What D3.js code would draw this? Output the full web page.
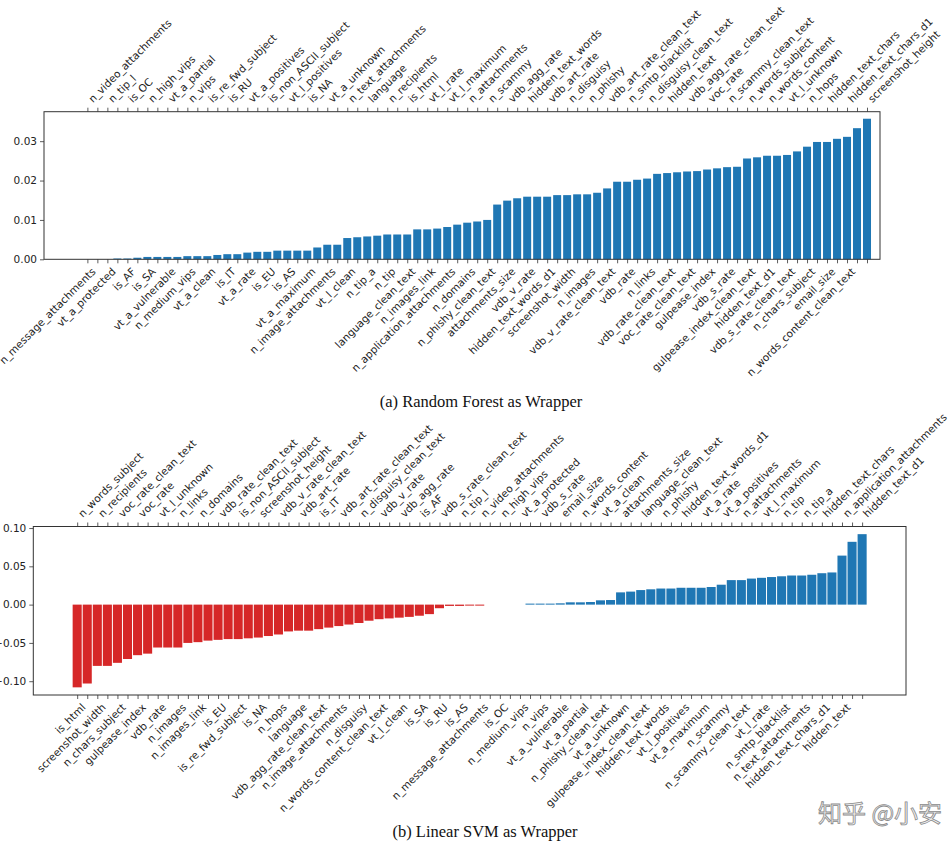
<!DOCTYPE html>
<html>
<head>
<meta charset="utf-8">
<script src="https://cdn.jsdelivr.net/npm/d3@7"></script>
<style>
    body { margin: 0; background: #fff; }
</style>
</head>
<body>
<div id="chart"></div>
<script>
// (a) Random Forest: labels alternate top (even index) / bottom (odd index)
var rfTopLabels = ["n_video_attachments", "n_tip_l", "is_OC", "n_high_vips", "vt_a_partial", "n_vips",
    "is_re_fwd_subject", "is_RU", "vt_a_positives", "is_non_ASCII_subject", "vt_l_positives", "is_NA",
    "vt_a_unknown", "n_text_attachments", "language", "n_recipients", "is_html", "vt_l_rate", "vt_l_maximum",
    "n_attachments", "n_scammy", "vdb_agg_rate", "hidden_text_words", "vdb_art_rate", "n_disguisy", "n_phishy",
    "vdb_art_rate_clean_text", "n_smtp_blacklist", "n_disguisy_clean_text", "hidden_text",
    "vdb_agg_rate_clean_text", "voc_rate", "n_scammy_clean_text", "n_words_subject", "n_words_content",
    "vt_l_unknown", "n_hops", "hidden_text_chars", "hidden_text_chars_d1", "screenshot_height"];
var rfBottomLabels = ["n_message_attachments", "vt_a_protected", "is_AF", "is_SA", "vt_a_vulnerable",
    "n_medium_vips", "vt_a_clean", "is_IT", "vt_a_rate", "is_EU", "is_AS", "vt_a_maximum",
    "n_image_attachments", "vt_l_clean", "n_tip_a", "n_tip", "language_clean_text", "n_images_link",
    "n_application_attachments", "n_domains", "n_phishy_clean_text", "attachments_size", "vdb_v_rate",
    "hidden_text_words_d1", "screenshot_width", "n_images", "vdb_v_rate_clean_text", "vdb_rate", "n_links",
    "vdb_rate_clean_text", "voc_rate_clean_text", "gulpease_index", "vdb_s_rate", "gulpease_index_clean_text",
    "hidden_text_d1", "vdb_s_rate_clean_text", "n_chars_subject", "email_size", "n_words_content_clean_text"];
var rfValues = [0, 0, 0, 0.0002, 0.0002, 0.0004, 0.0006, 0.0006, 0.0006, 0.0006,
    0.0008, 0.0008, 0.0008, 0.0011, 0.0013, 0.0013, 0.0017, 0.0019, 0.0019, 0.0022,
    0.0022, 0.0022, 0.0022, 0.0030, 0.0037, 0.0037, 0.0054, 0.0056, 0.0058, 0.0060,
    0.0063, 0.0063, 0.0063, 0.0076, 0.0076, 0.0078, 0.0082, 0.0088, 0.0093, 0.0096,
    0.0100, 0.0139, 0.0149, 0.0155, 0.0159, 0.0159, 0.0159, 0.0163, 0.0163, 0.0165,
    0.0165, 0.0169, 0.0180, 0.0197, 0.0197, 0.0202, 0.0205, 0.0217, 0.0219, 0.0221,
    0.0223, 0.0224, 0.0228, 0.0231, 0.0234, 0.0235, 0.0256, 0.0259, 0.0263, 0.0263,
    0.0265, 0.0274, 0.0286, 0.0298, 0.0298, 0.0306, 0.0311, 0.0333, 0.0357];
var rfTicks = [0, 0.01, 0.02, 0.03];

// (b) Linear SVM
var svmTopLabels = ["n_words_subject", "n_recipients", "voc_rate_clean_text", "voc_rate", "vt_l_unknown",
    "n_links", "n_domains", "vdb_rate_clean_text", "is_non_ASCII_subject", "screenshot_height",
    "vdb_v_rate_clean_text", "vdb_art_rate", "is_IT", "vdb_art_rate_clean_text", "n_disguisy_clean_text",
    "vdb_v_rate", "vdb_agg_rate", "is_AF", "vdb_s_rate_clean_text", "n_tip_l", "n_video_attachments",
    "n_high_vips", "vt_a_protected", "vdb_s_rate", "email_size", "n_words_content", "vt_a_clean",
    "attachments_size", "language_clean_text", "n_phishy", "hidden_text_words_d1", "vt_a_rate",
    "vt_a_positives", "n_attachments", "vt_l_maximum", "n_tip", "n_tip_a", "hidden_text_chars",
    "n_application_attachments", "hidden_text_d1"];
var svmBottomLabels = ["is_html", "screenshot_width", "n_chars_subject", "gulpease_index", "vdb_rate",
    "n_images", "n_images_link", "is_EU", "is_re_fwd_subject", "is_NA", "n_hops", "language",
    "vdb_agg_rate_clean_text", "n_image_attachments", "n_disguisy", "n_words_content_clean_text", "vt_l_clean",
    "is_SA", "is_RU", "is_AS", "n_message_attachments", "is_OC", "n_medium_vips", "n_vips", "vt_a_vulnerable",
    "vt_a_partial", "n_phishy_clean_text", "vt_a_unknown", "gulpease_index_clean_text", "hidden_text_words",
    "vt_l_positives", "vt_a_maximum", "n_scammy", "n_scammy_clean_text", "vt_l_rate", "n_smtp_blacklist",
    "n_text_attachments", "hidden_text_chars_d1", "hidden_text"];
var svmValues = [-0.108, -0.103, -0.080, -0.080, -0.076, -0.071, -0.066, -0.064, -0.056, -0.056,
    -0.056, -0.050, -0.049, -0.047, -0.046, -0.045, -0.045, -0.044, -0.043, -0.041,
    -0.039, -0.035, -0.034, -0.034, -0.032, -0.030, -0.028, -0.026, -0.024, -0.021,
    -0.019, -0.018, -0.017, -0.016, -0.0145, -0.0124, -0.0047, -0.0017, -0.0017, -0.0013,
    -0.0013, 0, 0, 0, 0, 0.0013, 0.0013, 0.0013, 0.0017, 0.0030,
    0.0030, 0.0034, 0.0056, 0.0060, 0.016, 0.017, 0.019, 0.020, 0.021, 0.021,
    0.022, 0.022, 0.022, 0.023, 0.026, 0.032, 0.032, 0.034, 0.035, 0.036,
    0.037, 0.038, 0.038, 0.039, 0.041, 0.042, 0.064, 0.082, 0.092];
var svmTicks = [-0.10, -0.05, 0, 0.05, 0.10];

var captions = ["(a) Random Forest as Wrapper", "(b) Linear SVM as Wrapper"];

var width = 952,
    height = 855;
var tickFont = "DejaVu Sans";

var svg = d3.select("#chart").append("svg")
    .attr("width", width).attr("height", height)
    .style("background", "#fff");

function interleave(top, bottom) {
    var names = [];
    for (var i = 0; i < top.length + bottom.length; i++) {
        names.push(i % 2 === 0 ? top[i / 2] : bottom[(i - 1) / 2]);
    }
    return names;
}

function drawPanel(p) {
    var names = interleave(p.topLabels, p.bottomLabels);
    var n = names.length;

    // matplotlib style auto margins
    var lo = d3.min(p.values), hi = d3.max(p.values);
    var ylo = lo < 0 ? lo - 0.05 * (hi - lo) : 0;
    var yhi = hi + 0.05 * (hi - (lo < 0 ? lo : 0));

    var x = d3.scaleLinear().domain(p.xDomain).range([p.left, p.right]);
    var y = d3.scaleLinear().domain([ylo, yhi]).range([p.bottom, p.top]);

    var g = svg.append("g");

    g.append("g").selectAll("rect")
        .data(p.values)
        .join("rect")
        .attr("x", (d, i) => x(i - p.barWidth / 2))
        .attr("width", x(p.barWidth) - x(0))
        .attr("y", d => y(Math.max(0, d)))
        .attr("height", d => Math.abs(y(d) - y(0)))
        .attr("fill", d => d < 0 ? "#d62728" : "#1f77b4");

    // bottom axis: odd indices
    g.append("g")
        .attr("transform", "translate(0," + p.bottom + ")")
        .call(d3.axisBottom(x).tickValues(d3.range(n)).tickSize(4).tickSizeOuter(0)
            .tickFormat(i => i % 2 === 1 ? names[i] : ""))
        .call(s => s.select(".domain").remove())
        .call(s => s.selectAll("line").attr("stroke", "#333").attr("stroke-width", 0.8))
        .call(s => s.selectAll("text")
            .attr("x", 0).attr("y", 0).attr("dy", 0)
            .attr("text-anchor", "end")
            .attr("transform", "translate(-1.5,13) rotate(-45)"))
        .attr("font-family", tickFont).attr("font-size", 10.5).attr("color", "#222");

    // top axis: even indices
    g.append("g")
        .attr("transform", "translate(0," + p.top + ")")
        .call(d3.axisTop(x).tickValues(d3.range(n)).tickSize(4).tickSizeOuter(0)
            .tickFormat(i => i % 2 === 0 ? names[i] : ""))
        .call(s => s.select(".domain").remove())
        .call(s => s.selectAll("line").attr("stroke", "#333").attr("stroke-width", 0.8))
        .call(s => s.selectAll("text")
            .attr("x", 0).attr("y", 0).attr("dy", 0)
            .attr("text-anchor", "start")
            .attr("transform", "translate(5,-8.5) rotate(-45)"))
        .attr("font-family", tickFont).attr("font-size", 10.5).attr("color", "#222");

    g.append("g")
        .attr("transform", "translate(" + p.left + ",0)")
        .call(d3.axisLeft(y).tickValues(p.yTicks).tickSize(4).tickPadding(3)
            .tickFormat(d3.format(".2f")))
        .call(s => s.select(".domain").remove())
        .call(s => s.selectAll("line").attr("stroke", "#333").attr("stroke-width", 0.8))
        .attr("font-family", tickFont).attr("font-size", 10.5).attr("color", "#222");

    g.append("rect")
        .attr("x", p.left).attr("y", p.top)
        .attr("width", p.right - p.left).attr("height", p.bottom - p.top)
        .attr("fill", "none").attr("stroke", "#333").attr("stroke-width", 1);

    svg.append("text")
        .attr("x", p.captionX).attr("y", p.captionY)
        .attr("text-anchor", "middle")
        .attr("font-family", "Liberation Serif")
        .attr("font-size", 16.5)
        .attr("fill", "#111")
        .text(p.caption);
}

drawPanel({
    values: rfValues, topLabels: rfTopLabels, bottomLabels: rfBottomLabels, yTicks: rfTicks,
    xDomain: [-4.34, 79.3], barWidth: 0.8,
    left: 44, right: 880, top: 111.7, bottom: 259.3,
    caption: captions[0], captionX: 481, captionY: 407
});

drawPanel({
    values: svmValues, topLabels: svmTopLabels, bottomLabels: svmBottomLabels, yTicks: svmTicks,
    xDomain: [-4.36, 82.36], barWidth: 0.9,
    left: 33.3, right: 906, top: 526.5, bottom: 695,
    caption: captions[1], captionX: 485, captionY: 837
});

// site watermark
svg.append("text")
    .attr("x", 818).attr("y", 822)
    .attr("font-family", "Noto Sans CJK SC")
    .attr("font-size", 24)
    .attr("fill", "#f2f2f2")
    .attr("stroke", "#8a8a8a")
    .attr("stroke-width", 0.8)
    .text("知乎 @小安");
</script>
</body>
</html>
